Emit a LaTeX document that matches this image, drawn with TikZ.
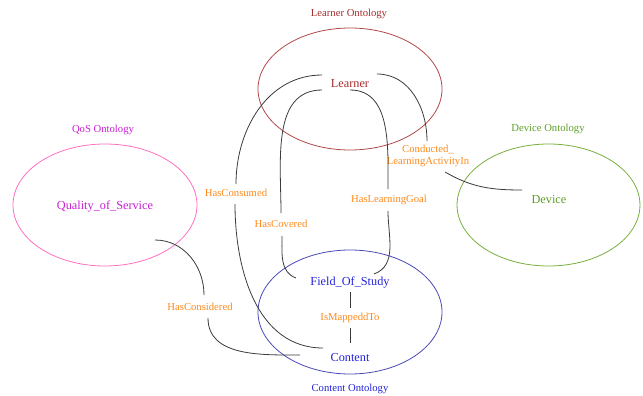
\documentclass[tikz,border=0pt]{standalone}
\usepackage{fontspec}
\setmainfont{Liberation Serif}
\definecolor{lrnc}{HTML}{A62A2A}
\definecolor{lrnline}{HTML}{B04848}
\definecolor{qosc}{HTML}{C81ED2}
\definecolor{qosline}{HTML}{FF6EC0}
\definecolor{devc}{HTML}{5E9E28}
\definecolor{devline}{HTML}{78AE3E}
\definecolor{cntc}{HTML}{2222D8}
\definecolor{cntline}{HTML}{4848B8}
\definecolor{relc}{HTML}{FF8A1C}
\definecolor{linkc}{HTML}{3A3A3A}

\begin{document}
\begin{tikzpicture}[x=0.75pt,y=-0.75pt,
    concept/.style={font=\fontsize{9.2}{11}\selectfont},
    ont/.style={font=\fontsize{8}{9}\selectfont},
    rel/.style={font=\fontsize{8}{9.2}\selectfont,text=relc,align=center,inner sep=1pt},
    link/.style={draw=linkc,line width=0.6pt}]
\useasboundingbox (0,0) rectangle (643,396);

% ontology ellipses
\draw[lrnline,line width=0.6pt] (350,89) ellipse (69pt and 45.75pt);
\draw[qosline,line width=0.6pt] (105,205) ellipse (69pt and 45.75pt);
\draw[devline,line width=0.6pt] (548.5,205) ellipse (68.6pt and 45.75pt);
\draw[cntline,line width=0.6pt] (350,312) ellipse (69pt and 46.5pt);

% ontology names
\node[ont,text=lrnc] (lrnont) at (349,14) {Learner Ontology};
\node[ont,text=qosc] (qosont) at (103,130) {QoS Ontology};
\node[ont,text=devc] (devont) at (548,129) {Device Ontology};
\node[ont,text=cntc] (cntont) at (350,389) {Content Ontology};

% concepts
\node[concept,text=lrnc] (learner) at (350,84) {Learner};
\node[concept,text=qosc] (qos) at (105,207) {Quality\_of\_Service};
\node[concept,text=devc] (device) at (549,199) {Device};
\node[concept,text=cntc] (fos) at (350,283) {Field\_Of\_Study};
\node[concept,text=cntc] (content) at (350,357) {Content};

% relations
\node[rel] (hascons) at (236,193) {HasConsumed};
\node[rel] (hascov) at (281,224) {HasCovered};
\node[rel] (hasgoal) at (389,200) {HasLearningGoal};
\node[rel] (conduct) at (428,156) {Conducted\_\\LearningActivityIn};
\node[rel] (hasconsid) at (200,307) {HasConsidered};
\node[rel] (mapped) at (350,318) {IsMappeddTo};

% edge ends
\coordinate (lrnA) at (322,75);
\coordinate (lrnB) at (322,90);
\coordinate (lrnC) at (350,90);
\coordinate (lrnD) at (377,74);
\coordinate (hconsA) at (236,184);
\coordinate (hconsB) at (235,204);
\coordinate (hcovA) at (281,213);
\coordinate (hcovB) at (282,236);
\coordinate (goalA) at (388,189);
\coordinate (goalB) at (388,211);
\coordinate (condA) at (427,141);
\coordinate (condB) at (445,172);
\coordinate (qosA) at (155,240);
\coordinate (hcsdA) at (204,295);
\coordinate (hcsdB) at (208,318);
\coordinate (fosW) at (296,278);
\coordinate (fosE) at (374,274);
\coordinate (fosS) at (350,292);
\coordinate (mapA) at (350,308);
\coordinate (mapB) at (350,328);
\coordinate (cntN) at (350,343);
\coordinate (cntA) at (323,348);
\coordinate (cntB) at (300,355);
\coordinate (devW) at (522,190);

\draw[link] (lrnA) to[out=180,in=90] (hconsA);
\draw[link] (hconsB) to[out=-90,in=180] (cntA);
\draw[link] (lrnB) to[out=180,in=90] (hcovA);
\draw[link] (hcovB) to[out=-90,in=160] (fosW);
\draw[link] (lrnC) to[out=0,in=90] (goalA);
\draw[link] (goalB) to[out=-90,in=20] (fosE);
\draw[link] (lrnD) to[out=0,in=90] (condA);
\draw[link] (condB) to[out=-30,in=180] (devW);
\draw[link] (qosA) to[out=0,in=90] (hcsdA);
\draw[link] (hcsdB) to[out=-90,in=180] (cntB);
\draw[link] (fosS) -- (mapA);
\draw[link] (mapB) -- (cntN);
\end{tikzpicture}
\end{document}
